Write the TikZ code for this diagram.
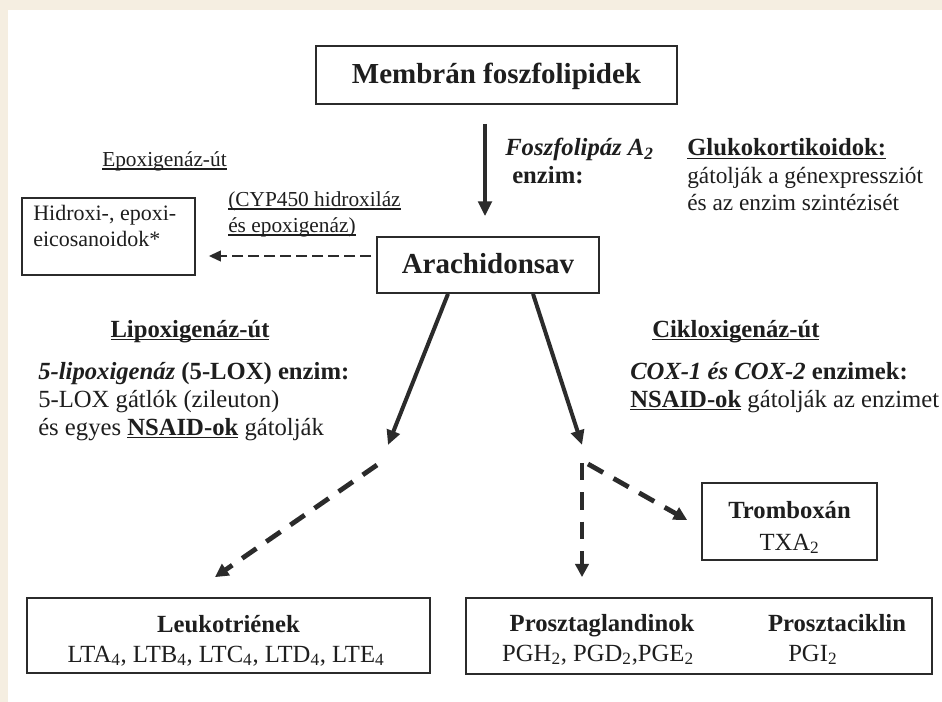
\documentclass[tikz,border=0pt]{standalone}
\usepackage{fontspec}
\setmainfont{Liberation Serif}
\usetikzlibrary{arrows.meta,calc}
\definecolor{cream}{HTML}{F5EEE1}
\definecolor{ink}{HTML}{1E1E1E}
\definecolor{linec}{HTML}{2B2B2B}
\newcommand{\fsT}{\fontsize{21.75}{26}\selectfont}
\newcommand{\fsM}{\fontsize{18.5}{22}\selectfont}
\newcommand{\fsB}{\fontsize{17.5}{21}\selectfont}
\newcommand{\fsS}{\fontsize{16}{19}\selectfont}
\newcommand{\fsH}{\fontsize{16.5}{19.5}\selectfont}
\newcommand{\ulx}[1]{\setbox0=\hbox{#1}\rlap{\rule[-0.13em]{\wd0}{0.065em}}\box0}
\begin{document}
\begin{tikzpicture}[x=0.75pt,y=-0.75pt,
  box/.style={draw=linec,line width=1.3pt,fill=white,inner sep=0pt},
  txt/.style={anchor=base,inner sep=0pt,text=ink},
  txtl/.style={anchor=base west,inner sep=0pt,text=ink},
  solidarr/.style={draw=linec,line width=3pt,-{Triangle[length=11pt,width=10pt]}},
  heavydash/.style={draw=linec,line width=3.6pt,dash pattern=on 13pt off 9pt,-{Triangle[length=10pt,width=10pt]}},
  thindash/.style={draw=linec,line width=1.5pt,dash pattern=on 8pt off 4pt,-{Triangle[length=9pt,width=8pt]}}]
\fill[cream] (0,0) rectangle (942,702);
\fill[white] (8,10) rectangle (942,702);
\useasboundingbox (0,0) rectangle (942,702);

% boxes
\node[box,minimum width=270.75pt,minimum height=43.5pt] (membr) at (496.5,75) {};
\node[box,minimum width=166.5pt,minimum height=42pt] (arach) at (488,265) {};
\node[box,minimum width=129.75pt,minimum height=57.75pt] (hidroxi) at (108.5,236.5) {};
\node[box,minimum width=302.25pt,minimum height=56.25pt] (leuko) at (228.5,635.5) {};
\node[box,minimum width=349.5pt,minimum height=57pt] (prost) at (699,636) {};
\node[box,minimum width=131.25pt,minimum height=57.75pt] (tromb) at (789.5,521.5) {};

% box texts
\node[txt,font=\fsT\bfseries] (membrt) at (496.5,84) {Membrán foszfolipidek};
\node[txt,font=\fsT\bfseries] (aracht) at (488,274) {Arachidonsav};
\node[txtl,font=\fsH] (hida) at (33,221) {Hidroxi-, epoxi-};
\node[txtl,font=\fsH] (hidb) at (33,247) {eicosanoidok*};
\node[txt,font=\fsM\bfseries] (leukoa) at (228.5,632) {Leukotriének};
\node[txt,font=\fsM] (leukob) at (226,662) {LTA\textsubscript{4}, LTB\textsubscript{4}, LTC\textsubscript{4}, LTD\textsubscript{4}, LTE\textsubscript{4}};
\node[txt,font=\fsM\bfseries] (prosta) at (602,631) {Prosztaglandinok};
\node[txt,font=\fsM] (prostb) at (598,661) {PGH\textsubscript{2}, PGD\textsubscript{2},PGE\textsubscript{2}};
\node[txt,font=\fsM\bfseries] (prostc) at (837,631) {Prosztaciklin};
\node[txtl,font=\fsM] (prostd) at (788,661) {PGI\textsubscript{2}};
\node[txt,font=\fsM\bfseries] (tromba) at (789.5,518) {Tromboxán};
\node[txt,font=\fsM] (trombb) at (789.5,550) {TXA\textsubscript{2}};

% labels
\node[txtl,font=\fsM\bfseries\itshape] (fla) at (505,156) {Foszfolipáz A\textsubscript{2}};
\node[txtl,font=\fsM\bfseries] (flb) at (512,184) {enzim:};
\node[txtl,font=\fsM\bfseries] (gka) at (687,156) {\ulx{Glukokortikoidok:}};
\node[txtl,font=\fsB] (gkb) at (687,184) {gátolják a génexpressziót};
\node[txtl,font=\fsB] (gkc) at (687,211) {és az enzim szintézisét};
\node[txtl,font=\fsS] (epo) at (102,167) {\ulx{Epoxigenáz-út}};
\node[txtl,font=\fsS] (cypa) at (228,207) {\ulx{(CYP450 hidroxiláz}};
\node[txtl,font=\fsS] (cypb) at (228,233) {\ulx{és epoxigenáz)}};

\node[txt,font=\fsM\bfseries] (loxh) at (190,337) {\ulx{Lipoxigenáz-út}};
\node[txtl,font=\fsM] (loxa) at (38,379) {\textbf{\textit{5-lipoxigenáz}} \textbf{(5-LOX) enzim:}};
\node[txtl,font=\fsM] (loxb) at (38,407) {5-LOX gátlók (zileuton)};
\node[txtl,font=\fsM] (loxc) at (38,435) {és egyes \textbf{\ulx{NSAID-ok}} gátolják};

\node[txtl,font=\fsM\bfseries] (coxh) at (652,337) {\ulx{Cikloxigenáz-út}};
\node[txtl,font=\fsM] (coxa) at (630,379) {\textbf{\textit{COX-1 és COX-2}} \textbf{enzimek:}};
\node[txtl,font=\fsM] (coxb) at (630,407) {\textbf{\ulx{NSAID-ok}} gátolják az enzimet};

% coordinates
\coordinate (loxtip) at (388,445);
\coordinate (loxdash) at (377,465);
\coordinate (coxtip) at (582,445);
\coordinate (coxsplit) at (582,463);
\coordinate (coxsplitb) at (588,464);

% connectors
\draw[solidarr,shorten <=14.25pt,shorten >=15pt] ([xshift=-8.625pt]membr.south) -- ([xshift=-8.625pt]membr.south |- arach.north);
\draw[thindash] ($(arach.west)+(-5,-9)$) -- ($(hidroxi.east |- arach.west)+(13,-9)$);
\draw[solidarr] ([xshift=-30pt]arach.south) -- (loxtip);
\draw[solidarr] ([xshift=33.75pt]arach.south) -- (coxtip);
\draw[heavydash] (loxdash) -- ($(leuko.north)+(-13.5,-20)$);
\draw[heavydash,shorten >=15pt] (coxsplit) -- (coxsplit |- prost.north);
\draw[heavydash] (coxsplitb) -- ($(tromb.west)+(-14,-1.5)$);
\end{tikzpicture}
\end{document}
